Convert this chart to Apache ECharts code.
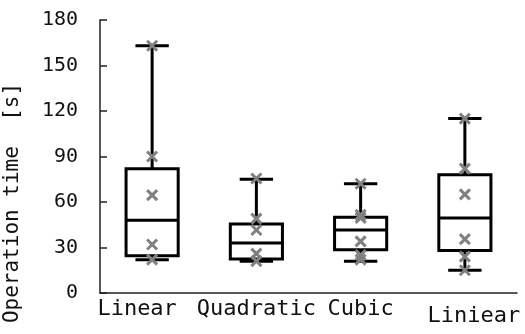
<!DOCTYPE html>
<html>
<head>
<meta charset="utf-8">
<script src="https://cdn.jsdelivr.net/npm/echarts@6/dist/echarts.min.js"></script>
<style>
  html, body { margin: 0; padding: 0; background: #fff; }
  #main { width: 525px; height: 334px; }
</style>
</head>
<body>
<div id="main"></div>
<script>
// categories and box statistics (seconds)
var categories = ['Linear', 'Quadratic', 'Cubic', 'Liniear'];
var mins    = [22, 21, 21, 15];
var q1s     = [24.5, 22.5, 28.5, 28];
var medians = [48, 33, 41.5, 49.5];
var q3s     = [82, 45.5, 50, 78];
var maxs    = [163, 75, 72, 115];
// individual measurements (grey crosses)
var linearPts    = [163, 90, 64.5, 32, 22];
var quadraticPts = [75.5, 49, 41.5, 26, 21];
var cubicPts     = [72, 51.5, 49.5, 34, 25, 22];
var liniearPts   = [115, 82, 65, 35.5, 24, 15];
var yTicks = [0, 30, 60, 90, 120, 150, 180];

var FONT = 'DejaVu Sans Mono';

var boxData = categories.map(function (c, i) {
  return [i, mins[i], q1s[i], medians[i], q3s[i], maxs[i]];
});
var ptData = [];
[linearPts, quadraticPts, cubicPts, liniearPts].forEach(function (arr, i) {
  arr.forEach(function (v) { ptData.push([i, v]); });
});

var chart = echarts.init(document.getElementById('main'));

function renderBox(params, api) {
  var idx = api.value(0);
  var band = api.size([1, 0])[0];
  var half = band * 0.25;
  var cap = band * 0.16;
  var pMin = api.coord([idx, api.value(1)]);
  var pQ1 = api.coord([idx, api.value(2)]);
  var pMed = api.coord([idx, api.value(3)]);
  var pQ3 = api.coord([idx, api.value(4)]);
  var pMax = api.coord([idx, api.value(5)]);
  var x = pMed[0];
  var st = { stroke: '#000', lineWidth: 3, fill: null };
  return {
    type: 'group',
    children: [
      { type: 'line', shape: { x1: x, y1: pMax[1], x2: x, y2: pQ3[1] }, style: st },
      { type: 'line', shape: { x1: x, y1: pQ1[1], x2: x, y2: pMin[1] }, style: st },
      { type: 'line', shape: { x1: x - cap, y1: pMax[1], x2: x + cap, y2: pMax[1] }, style: st },
      { type: 'line', shape: { x1: x - cap, y1: pMin[1], x2: x + cap, y2: pMin[1] }, style: st },
      { type: 'rect', shape: { x: x - half, y: pQ3[1], width: half * 2, height: pQ1[1] - pQ3[1] },
        style: { stroke: '#000', lineWidth: 3, fill: '#fff' } },
      { type: 'line', shape: { x1: x - half, y1: pMed[1], x2: x + half, y2: pMed[1] }, style: st }
    ]
  };
}

function renderCross(params, api) {
  var p = api.coord([api.value(0), api.value(1)]);
  var s = 5;
  var st = { stroke: '#808080', lineWidth: 3 };
  return {
    type: 'group',
    children: [
      { type: 'line', shape: { x1: p[0] - s, y1: p[1] - s, x2: p[0] + s, y2: p[1] + s }, style: st },
      { type: 'line', shape: { x1: p[0] - s, y1: p[1] + s, x2: p[0] + s, y2: p[1] - s }, style: st }
    ]
  };
}

chart.setOption({
  animation: false,
  backgroundColor: '#fff',
  grid: { left: 100, right: 8, top: 20, bottom: 41 },
  xAxis: {
    type: 'category',
    data: categories,
    boundaryGap: true,
    axisLine: { lineStyle: { color: '#222', width: 1.5 } },
    axisTick: { inside: true, length: 7, lineStyle: { color: '#222', width: 1.5 } },
    axisLabel: {
      interval: 0,
      hideOverlap: false,
      margin: 5,
      color: '#111',
      fontFamily: FONT,
      fontSize: 22,
      formatter: function (v, i) {
        if (i === 0) return '{l|' + v + '}';
        if (i === 3) return '{r|' + v + '}';
        return '{n|' + v + '}';
      },
      rich: {
        n: { fontFamily: FONT, fontSize: 22, color: '#111' },
        l: { fontFamily: FONT, fontSize: 22, color: '#111', padding: [0, 30, 0, 0] },
        r: { fontFamily: FONT, fontSize: 22, color: '#111', padding: [7, 0, 0, 18] }
      }
    },
    splitLine: { show: false }
  },
  yAxis: {
    type: 'value',
    min: yTicks[0],
    max: yTicks[yTicks.length - 1],
    interval: 30,
    axisLine: { show: true, lineStyle: { color: '#222', width: 1.5 } },
    axisTick: { show: true, inside: true, length: 7, lineStyle: { color: '#222', width: 1.5 } },
    axisLabel: { margin: 22, color: '#111', fontFamily: FONT, fontSize: 20 },
    splitLine: { show: false }
  },
  graphic: [{
    type: 'text',
    x: 13,
    y: 203,
    rotation: Math.PI / 2,
    style: {
      text: 'Operation time  [s]',
      fontFamily: FONT,
      fontSize: 21,
      fill: '#111',
      textAlign: 'center',
      textVerticalAlign: 'middle'
    }
  }],
  series: [
    { type: 'custom', renderItem: renderBox, data: boxData, encode: { x: 0, y: [1, 2, 3, 4, 5] }, z: 2 },
    { type: 'custom', renderItem: renderCross, data: ptData, encode: { x: 0, y: 1 }, z: 3 }
  ]
});
</script>
</body>
</html>
